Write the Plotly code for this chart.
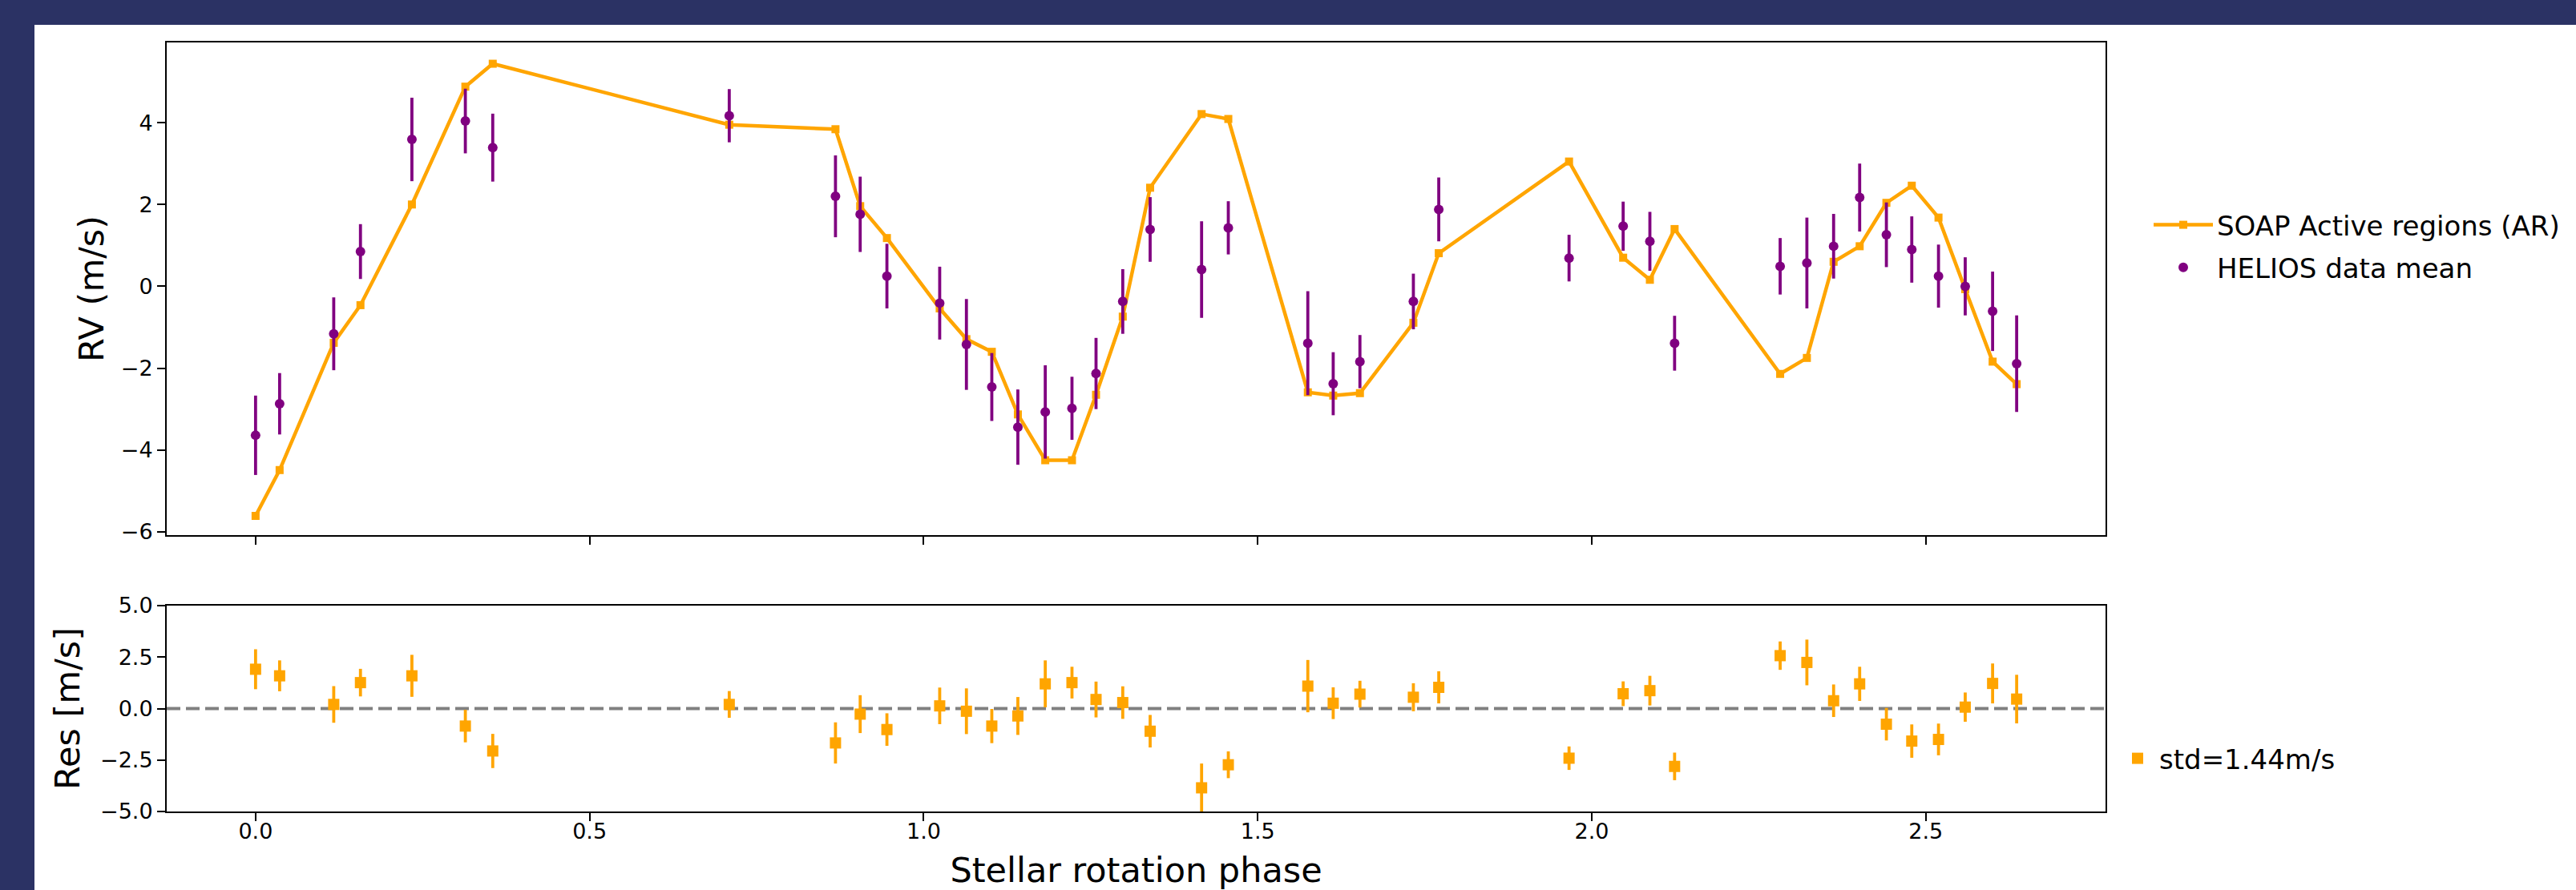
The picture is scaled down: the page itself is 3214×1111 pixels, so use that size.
import plotly.graph_objects as go

# ---------------- data ----------------
phase = [0.000, 0.036, 0.117, 0.157, 0.234, 0.314, 0.355, 0.709, 0.868, 0.905,
         0.945, 1.024, 1.064, 1.102, 1.141, 1.182, 1.222, 1.258, 1.298, 1.339,
         1.416, 1.456, 1.575, 1.613, 1.653, 1.733, 1.771, 1.966, 2.047, 2.087,
         2.124, 2.282, 2.322, 2.362, 2.401, 2.441, 2.479, 2.519, 2.559, 2.600,
         2.636]

rv_data = [-3.64, -2.87, -1.16, 0.85, 3.59, 4.04, 3.39, 4.17, 2.20, 1.76,
           0.25, -0.41, -1.42, -2.46, -3.44, -3.07, -2.98, -2.13, -0.37, 1.39,
           0.41, 1.43, -1.39, -2.38, -1.84, -0.37, 1.88, 0.69, 1.47, 1.10,
           -1.39, 0.49, 0.57, 0.98, 2.17, 1.26, 0.90, 0.25, 0.00, -0.61,
           -1.89]

rv_err = [0.97, 0.75, 0.89, 0.67, 1.02, 0.79, 0.83, 0.65, 1.00, 0.92,
          0.79, 0.89, 1.11, 0.83, 0.92, 1.14, 0.77, 0.87, 0.79, 0.79,
          1.18, 0.65, 1.27, 0.77, 0.65, 0.68, 0.78, 0.57, 0.60, 0.72,
          0.67, 0.69, 1.11, 0.79, 0.83, 0.79, 0.81, 0.77, 0.71, 0.97,
          1.18]

soap_model = [-5.61, -4.49, -1.38, -0.46, 2.00, 4.88, 5.44, 3.95, 3.84, 1.96,
              1.18, -0.54, -1.29, -1.60, -3.13, -4.25, -4.25, -2.65, -0.74, 2.41,
              4.21, 4.09, -2.59, -2.67, -2.61, -0.89, 0.81, 3.05, 0.70, 0.16,
              1.40, -2.14, -1.75, 0.60, 0.98, 2.04, 2.46, 1.68, -0.07, -1.84,
              -2.39]

residuals = [1.91, 1.59, 0.20, 1.26, 1.59, -0.85, -2.06, 0.20, -1.67, -0.27,
             -1.02, 0.13, -0.13, -0.85, -0.36, 1.20, 1.26, 0.44, 0.29, -1.10,
             -3.85, -2.73, 1.09, 0.26, 0.70, 0.55, 1.03, -2.41, 0.72, 0.87,
             -2.81, 2.57, 2.24, 0.38, 1.20, -0.76, -1.58, -1.50, 0.07, 1.22,
             0.46]

res_err = rv_err

x_ticks = [0.0, 0.5, 1.0, 1.5, 2.0, 2.5]
rv_ticks = [-6, -4, -2, 0, 2, 4]
res_ticks = [-5.0, -2.5, 0.0, 2.5, 5.0]

label_model = "SOAP Active regions (AR)"
label_data = "HELIOS data mean"
label_res = "std=1.44m/s"

# ---------------- styling ----------------
W, H = 3214, 1111
ML, MR, MT, MB = 208, 3214 - 2627, 53, 1111 - 1013
PW, PH = W - ML - MR, H - MT - MB
FONT = "DejaVu Sans"
ORANGE = "#FFA500"
PURPLE = "#800080"
NAVY = "#2b3264"


def px_x(px):
    return (px - ML) / PW


def px_y(py):
    return (H - MB - py) / PH


fig = go.Figure()

fig.add_trace(go.Scatter(
    x=phase, y=soap_model, mode="lines+markers", name=label_model,
    line=dict(color=ORANGE, width=4.5),
    marker=dict(symbol="square", size=10, color=ORANGE),
    xaxis="x", yaxis="y", legend="legend", legendgroup="model"))

fig.add_trace(go.Scatter(
    x=phase, y=rv_data, mode="markers", name=label_data,
    marker=dict(symbol="circle", size=12, color=PURPLE),
    error_y=dict(type="data", array=rv_err, visible=True, color=PURPLE,
                 thickness=3.8, width=0),
    xaxis="x", yaxis="y", legend="legend", legendgroup="data"))

fig.add_trace(go.Scatter(
    x=phase, y=residuals, mode="markers", name=label_res,
    marker=dict(symbol="square", size=14, color=ORANGE),
    error_y=dict(type="data", array=res_err, visible=True, color=ORANGE,
                 thickness=3.8, width=0),
    xaxis="x2", yaxis="y2", legend="legend2"))

axis_common = dict(
    showline=True, linecolor="black", linewidth=2, mirror=True,
    ticks="outside", ticklen=10, tickwidth=2, tickcolor="black",
    showgrid=False, zeroline=False,
    tickfont=dict(family=FONT, size=27, color="black"),
)

xr = [-0.133, 2.769]

fig.update_layout(
    width=W, height=H,
    margin=dict(l=ML, r=MR, t=MT, b=MB, autoexpand=False),
    paper_bgcolor="white", plot_bgcolor="white",
    font=dict(family=FONT, color="black"),
    xaxis=dict(domain=[0, 1], range=xr, anchor="y", tickvals=x_ticks,
               showticklabels=False, **axis_common),
    yaxis=dict(domain=[px_y(668), 1], range=[-6.08, 5.96], anchor="x",
               tickvals=rv_ticks,
               title=dict(text="RV (m/s)", font=dict(family=FONT, size=43),
                          standoff=8),
               **axis_common),
    xaxis2=dict(domain=[0, 1], range=xr, anchor="y2", tickvals=x_ticks,
                tickformat=".1f", ticklabelstandoff=-10,
                title=dict(text="Stellar rotation phase",
                           font=dict(family=FONT, size=43), standoff=22),
                **axis_common),
    yaxis2=dict(domain=[0, px_y(756)], range=[-5, 5], anchor="x2",
                tickvals=res_ticks, tickformat=".1f",
                title=dict(text="Res [m/s]", font=dict(family=FONT, size=43),
                           standoff=12),
                **axis_common),
    legend=dict(x=px_x(2682), y=px_y(252), xanchor="left", yanchor="top",
                font=dict(family=FONT, size=34, color="black"),
                bgcolor="rgba(0,0,0,0)", borderwidth=0, itemwidth=74,
                traceorder="grouped", tracegroupgap=6),
    legend2=dict(x=px_x(2640), y=px_y(947), xanchor="left", yanchor="middle",
                 font=dict(family=FONT, size=34, color="black"),
                 bgcolor="rgba(0,0,0,0)", borderwidth=0, itemwidth=44),
    showlegend=True,
)

# dashed zero line in the residual panel
fig.add_shape(type="line", xref="x2 domain", yref="y2", x0=0, x1=1, y0=0, y1=0,
              line=dict(color="gray", width=4, dash="17px,7px"), layer="below")

# dark frame of the slide (top band and left band)
fig.add_shape(type="rect", xref="paper", yref="paper",
              x0=px_x(0), x1=px_x(W), y0=px_y(0), y1=px_y(31),
              fillcolor=NAVY, line=dict(width=0), layer="above")
fig.add_shape(type="rect", xref="paper", yref="paper",
              x0=px_x(0), x1=px_x(43), y0=px_y(H), y1=px_y(0),
              fillcolor=NAVY, line=dict(width=0), layer="above")

fig.write_html("out.html",
               config={"displayModeBar": False},
               post_script="document.body.style.margin='0';"
                           "document.body.style.overflow='hidden';")
